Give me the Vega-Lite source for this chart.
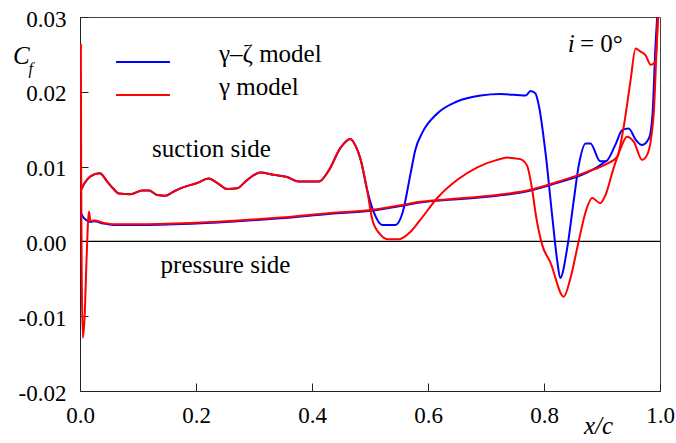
{
  "$schema": "https://vega.github.io/schema/vega-lite/v6.json",
  "width": 580,
  "height": 374,
  "autosize": {"type": "none"},
  "padding": {"left": 80, "top": 17, "right": 16, "bottom": 52},
  "background": "white",
  "config": {
    "view": {"stroke": "#444", "strokeWidth": 1},
    "font": "Liberation Serif",
    "legend": {"labelFont": "Liberation Serif"},
    "axis": {"grid": false, "domainColor": "#222", "tickColor": "#222", "labelColor": "black", "titleColor": "black", "labelFont": "Liberation Serif", "titleFont": "Liberation Serif", "titleFontWeight": "normal"}
  },
  "datasets": {
    "curves": [
      {"model": "γ–ζ model", "side": "suction",
       "x": [0,0.008,0.018,0.034,0.047,0.058,0.067,0.087,0.107,0.119,0.133,0.147,0.16,0.173,0.202,0.222,0.237,0.254,0.271,0.288,0.311,0.334,0.357,0.377,0.412,0.429,0.449,0.466,0.475,0.484,0.495,0.507,0.521,0.544,0.556,0.57,0.578,0.59,0.616,0.65,0.691,0.725,0.768,0.777,0.785,0.791,0.803,0.814,0.823,0.828,0.84,0.851,0.86,0.872,0.88,0.897,0.906,0.923,0.935,0.946,0.958,0.969,0.981,0.987,0.992,0.996],
       "y": [0.0066,0.0078,0.0087,0.0091,0.008,0.007,0.0064,0.0063,0.0068,0.0068,0.0062,0.0061,0.0066,0.0071,0.0078,0.0084,0.0078,0.007,0.0071,0.0082,0.0092,0.0089,0.0086,0.008,0.008,0.0095,0.0125,0.0137,0.0128,0.0109,0.0069,0.0038,0.0022,0.0022,0.0038,0.0091,0.0122,0.0145,0.0171,0.0187,0.0195,0.0197,0.0195,0.0201,0.0198,0.0182,0.0116,0.0035,-0.0027,-0.0049,-0.0009,0.0053,0.0102,0.0131,0.0131,0.0107,0.0107,0.0129,0.0149,0.0151,0.0136,0.0129,0.0138,0.0169,0.0258,0.031]},
      {"model": "γ–ζ model", "side": "pressure",
       "x": [0,0.005,0.01,0.018,0.025,0.04,0.058,0.116,0.23,0.346,0.432,0.501,0.55,0.587,0.662,0.719,0.777,0.817,0.874,0.897,0.906],
       "y": [0.0041,0.0033,0.0029,0.0026,0.0027,0.0024,0.0022,0.0022,0.0025,0.0031,0.0037,0.0041,0.0047,0.0052,0.0057,0.0061,0.0068,0.0077,0.0092,0.0102,0.0107]},
      {"model": "γ model", "side": "suction",
       "x": [0,0.008,0.018,0.034,0.047,0.058,0.067,0.087,0.107,0.119,0.133,0.147,0.16,0.173,0.202,0.222,0.237,0.254,0.271,0.288,0.311,0.334,0.357,0.377,0.412,0.429,0.449,0.466,0.475,0.484,0.495,0.504,0.518,0.53,0.55,0.57,0.587,0.616,0.65,0.685,0.719,0.737,0.759,0.771,0.779,0.786,0.797,0.811,0.834,0.846,0.86,0.872,0.883,0.897,0.906,0.92,0.932,0.943,0.955,0.969,0.978,0.989,0.995,0.997],
       "y": [0.0066,0.0078,0.0087,0.0091,0.008,0.007,0.0064,0.0063,0.0068,0.0068,0.0062,0.0061,0.0066,0.0071,0.0078,0.0084,0.0078,0.007,0.0071,0.0082,0.0092,0.0089,0.0086,0.008,0.008,0.0095,0.0125,0.0137,0.0128,0.0109,0.0069,0.0029,0.0009,0.0003,0.0003,0.0013,0.0029,0.0058,0.0082,0.0099,0.0109,0.0112,0.011,0.0101,0.0072,0.0035,-0.0005,-0.0028,-0.0074,-0.0048,0.0001,0.004,0.0058,0.0051,0.0062,0.0098,0.0124,0.014,0.0133,0.0109,0.0116,0.0169,0.0276,0.031]},
      {"model": "γ model", "side": "pressure",
       "x": [0.0015,0.002,0.003,0.005,0.008,0.011,0.0155,0.018,0.025,0.04,0.058,0.116,0.23,0.346,0.432,0.501,0.55,0.587,0.662,0.719,0.777,0.817,0.874,0.909,0.926,0.938,0.949,0.958,0.966,0.975,0.984,0.992,0.997],
       "y": [0.0264,0.01,-0.005,-0.0129,-0.01,-0.003,0.004,0.0027,0.0028,0.0025,0.0023,0.0023,0.0026,0.0032,0.0038,0.0042,0.0048,0.0053,0.0058,0.0062,0.0069,0.0078,0.0093,0.0104,0.0113,0.0156,0.0214,0.0258,0.0254,0.0249,0.0236,0.024,0.031]}
    ]
  },
  "layer": [
    {
      "data": {"values": [{}]},
      "mark": {"type": "rule", "color": "black", "strokeWidth": 1.2},
      "encoding": {"y": {"datum": 0, "type": "quantitative"}}
    },
    {
      "data": {"name": "curves"},
      "transform": [{"flatten": ["x", "y"]}, {"filter": "datum.model === 'γ–ζ model'"}],
      "mark": {"type": "line", "strokeWidth": 2, "clip": true, "interpolate": "monotone"},
      "encoding": {
        "x": {"field": "x", "type": "quantitative", "scale": {"domain": [0, 1]},
              "axis": {"values": [0, 0.2, 0.4, 0.6, 0.8, 1], "format": ".1f", "tickSize": -8, "labelPadding": 21, "labelFontSize": 23, "labelFlush": false,
                       "title": "x/c", "titleFontStyle": "italic", "titleFontSize": 25, "titleX": 518, "titleY": 42, "titleBaseline": "alphabetic", "titleAlign": "center"}},
        "y": {"field": "y", "type": "quantitative", "scale": {"domain": [-0.02, 0.03]},
              "axis": {"values": [-0.02, -0.01, 0, 0.01, 0.02, 0.03], "labelExpr": "datum.value < 0 ? '-' + format(-datum.value, '.2f') : format(datum.value, '.2f')",
                       "tickSize": -8, "labelPadding": 22, "labelFontSize": 23, "labelOffset": 2,
                       "title": "C", "titleAngle": 0, "titleFontStyle": "italic", "titleFontSize": 25, "titleX": -67.5, "titleY": 46, "titleAlign": "left", "titleBaseline": "alphabetic"}},
        "color": {"field": "model", "type": "nominal",
                  "scale": {"domain": ["γ–ζ model", "γ model"], "range": ["#0000ff", "#ff0000"]},
                  "legend": {"orient": "none", "legendX": 35, "legendY": 17, "title": null, "symbolType": "stroke", "symbolSize": 2900, "symbolStrokeWidth": 2,
                             "labelFontSize": 25, "labelColor": "black", "labelOffset": 48, "rowPadding": -6, "padding": 0, "labelBaseline": "alphabetic", "labelLimit": 300}},
        "detail": {"field": "side"}
      }
    },
    {
      "data": {"name": "curves"},
      "transform": [{"flatten": ["x", "y"]}, {"filter": "datum.model === 'γ model'"}],
      "mark": {"type": "line", "strokeWidth": 2, "clip": true, "interpolate": "monotone"},
      "encoding": {
        "x": {"field": "x", "type": "quantitative"},
        "y": {"field": "y", "type": "quantitative"},
        "color": {"field": "model", "type": "nominal"},
        "detail": {"field": "side"}
      }
    },
    {
      "data": {"values": [{}]},
      "mark": {"type": "text", "fontSize": 25, "align": "center", "baseline": "alphabetic", "color": "black", "font": "Liberation Serif"},
      "encoding": {"x": {"datum": 0.2267, "type": "quantitative"}, "y": {"datum": 0.01132, "type": "quantitative"}, "text": {"value": "suction side"}}
    },
    {
      "data": {"values": [{}]},
      "mark": {"type": "text", "fontSize": 25, "align": "center", "baseline": "alphabetic", "color": "black", "font": "Liberation Serif"},
      "encoding": {"x": {"datum": 0.2509, "type": "quantitative"}, "y": {"datum": -0.00426, "type": "quantitative"}, "text": {"value": "pressure side"}}
    },
    {
      "data": {"values": [{}]},
      "mark": {"type": "text", "fontSize": 25, "fontStyle": "italic", "align": "left", "baseline": "alphabetic", "color": "black", "font": "Liberation Serif"},
      "encoding": {"x": {"datum": 0.841, "type": "quantitative"}, "y": {"datum": 0.02536, "type": "quantitative"}, "text": {"value": "i"}}
    },
    {
      "data": {"values": [{}]},
      "mark": {"type": "text", "fontSize": 25, "align": "left", "baseline": "alphabetic", "color": "black", "font": "Liberation Serif"},
      "encoding": {"x": {"datum": 0.862, "type": "quantitative"}, "y": {"datum": 0.02536, "type": "quantitative"}, "text": {"value": "= 0°"}}
    },
    {
      "data": {"values": [{}]},
      "mark": {"type": "text", "fontSize": 16, "fontStyle": "italic", "align": "left", "baseline": "alphabetic", "color": "black", "font": "Liberation Serif"},
      "encoding": {"x": {"datum": -0.0888, "type": "quantitative"}, "y": {"datum": 0.02238, "type": "quantitative"}, "text": {"value": "f"}}
    }
  ]
}
